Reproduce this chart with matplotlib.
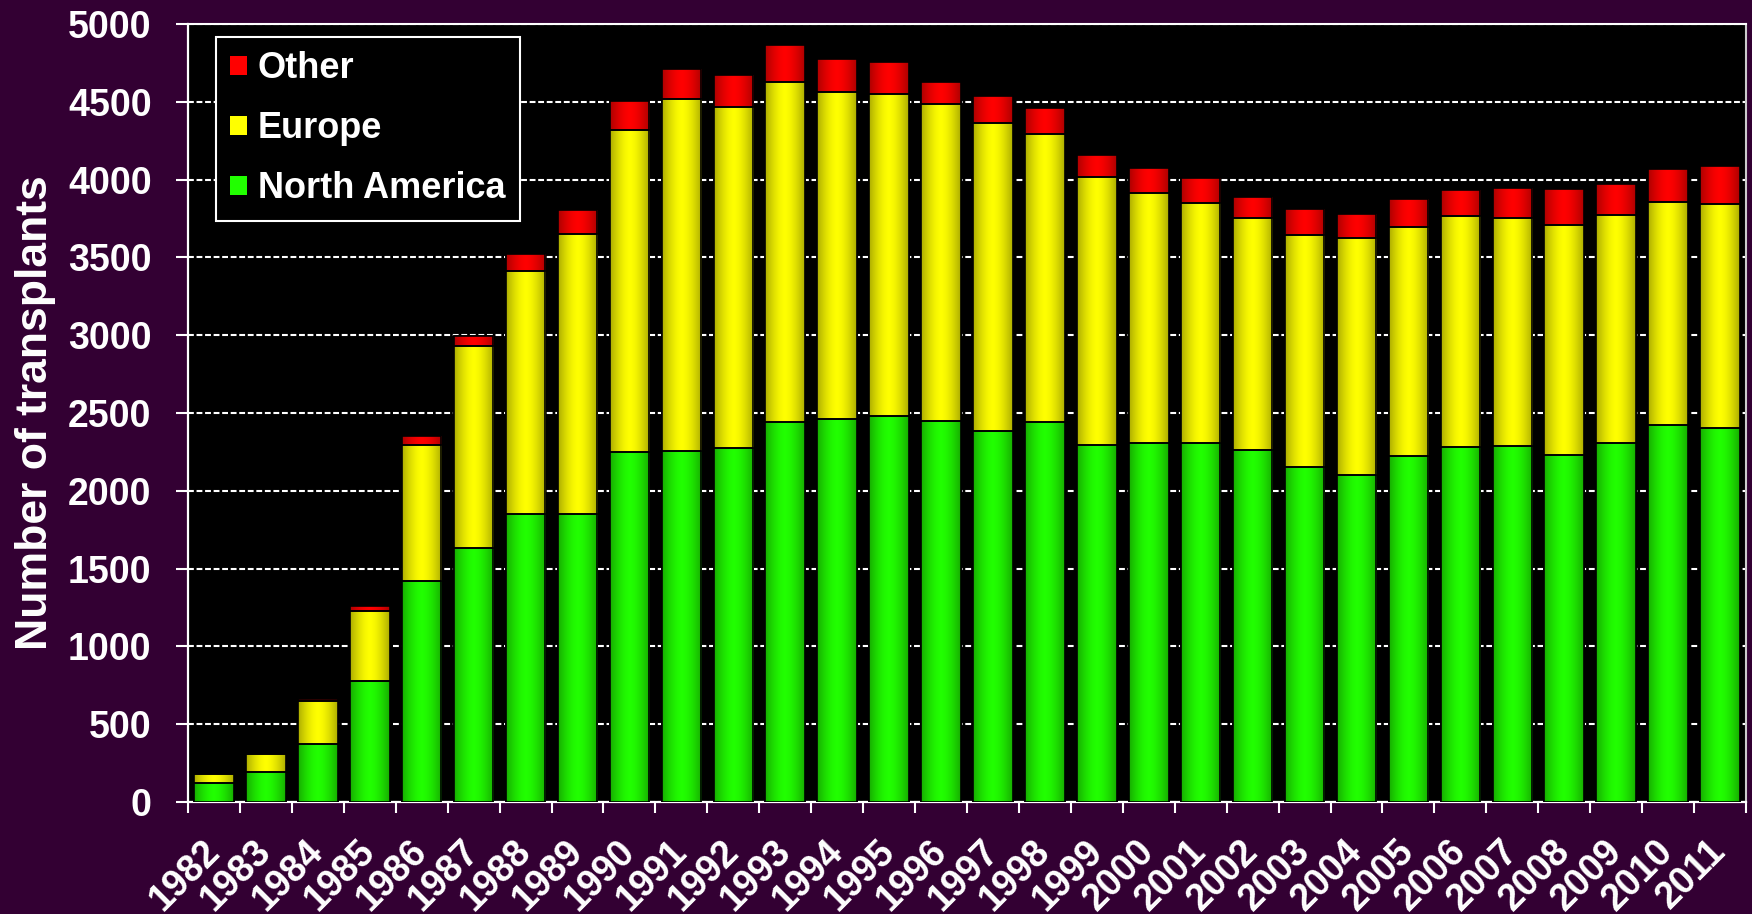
import numpy as np
import matplotlib
matplotlib.use("Agg")
import matplotlib.pyplot as plt
from matplotlib.patches import Patch

years = [str(y) for y in range(1982, 2012)]
north_america = [125, 195, 373, 780, 1422, 1631, 1853, 1853, 2249, 2256, 2277, 2443, 2464, 2478, 2450,
                 2385, 2443, 2292, 2310, 2307, 2260, 2150, 2100, 2224, 2280, 2287, 2229, 2308, 2425, 2403]
europe = [55, 114, 274, 445, 870, 1300, 1559, 1797, 2069, 2259, 2188, 2187, 2096, 2072, 2035,
          1978, 1848, 1724, 1605, 1545, 1492, 1495, 1522, 1473, 1486, 1466, 1482, 1464, 1430, 1439]
other = [2, 2, 17, 33, 57, 65, 108, 157, 187, 198, 206, 236, 213, 206, 142,
         172, 171, 143, 158, 156, 135, 165, 159, 178, 166, 194, 228, 202, 212, 247]
yticks = [0, 500, 1000, 1500, 2000, 2500, 3000, 3500, 4000, 4500, 5000]

BG = "#330033"
colors = {"North America": (0.13, 1.0, 0.0), "Europe": (1.0, 1.0, 0.0), "Other": (1.0, 0.0, 0.0)}

plt.rcParams['font.family'] = ['Liberation Sans', 'DejaVu Sans']
plt.rcParams['font.weight'] = 'bold'

fig = plt.figure(figsize=(17.52, 9.14), dpi=100, facecolor=BG)
ax = fig.add_axes([188/1752, 1-802/914, (1746-188)/1752, (802-24)/914])
ax.set_facecolor("black")

x = np.arange(len(years))
w = 0.76
na = np.array(north_america); eu = np.array(europe); ot = np.array(other)

series = [("North America", na, np.zeros_like(na)), ("Europe", eu, na), ("Other", ot, na + eu)]

t = np.linspace(0, 1, 64)
prof = 1 - 0.32 * (np.abs(t - 0.5) * 2) ** 1.6

for name, vals, bottom in series:
    base = np.array(colors[name])
    grad = np.clip(prof[None, :, None] * base[None, None, :], 0, 1)
    bars = ax.bar(x, vals, w, bottom=bottom, color=base, edgecolor="black", linewidth=1.2, zorder=3, label=name)
    for p in bars:
        x0, y0 = p.get_x(), p.get_y()
        im = ax.imshow(grad, extent=[x0, x0 + p.get_width(), y0, y0 + p.get_height()],
                       aspect="auto", zorder=3.5, interpolation="bilinear")
        im.set_clip_path(p)
    for p in bars:
        ax.add_patch(plt.Rectangle((p.get_x(), p.get_y()), p.get_width(), p.get_height(),
                                   fill=False, edgecolor="black", linewidth=1.2, zorder=4))

ax.set_xlim(-0.5, len(years) - 0.5)
ax.set_ylim(0, 5000)
ax.set_yticks(yticks)
ax.set_yticklabels([str(v) for v in yticks], fontsize=27, fontweight="bold", color="white")
ax.set_xticks(x)
ax.set_xticklabels(years, rotation=45, ha="right", va="center", rotation_mode="anchor",
                   fontsize=27, fontweight="bold", color="white")
ax.set_xticks(np.arange(-0.5, len(years)), minor=True)
ax.tick_params(axis="x", which="major", length=0, pad=31.5)
ax.tick_params(axis="x", which="minor", length=8, width=1.5, color="white")
ax.tick_params(axis="y", length=8.6, width=1.5, color="white", pad=17.6)

ax.grid(axis="y", color="white", linestyle=(0, (2.8, 1.3)), linewidth=1.5, zorder=1)
ax.set_axisbelow(True)
for s in ["left", "bottom"]:
    ax.spines[s].set_color("white"); ax.spines[s].set_linewidth(1.6)
ax.spines["top"].set_color("white"); ax.spines["top"].set_linewidth(1.5)
ax.spines["right"].set_color("#cccccc"); ax.spines["right"].set_linewidth(1.5)

ax.set_ylabel("Number of transplants", fontsize=32, fontweight="bold", color="white")
ax.yaxis.set_label_coords(-0.0847, 0.5)

handles = [Patch(facecolor=colors[n], edgecolor="none") for n in ["Other", "Europe", "North America"]]
leg = ax.legend(handles, ["Other", "Europe", "North America"], loc="upper left",
                bbox_to_anchor=(0.018, 0.9833), borderaxespad=0,
                prop={'weight': 'bold', 'size': 26},
                frameon=True, fancybox=False,
                handlelength=0.46, handleheight=0.46, handletextpad=0.3, labelspacing=0.69,
                borderpad=0.4)
leg.get_frame().set_facecolor("black")
leg.get_frame().set_edgecolor("white")
leg.get_frame().set_linewidth(1.5)
leg.get_frame().set_alpha(1)
for txt in leg.get_texts():
    txt.set_color("white")
leg.set_zorder(10)

fig.savefig("out.png", dpi=100, facecolor=BG)
